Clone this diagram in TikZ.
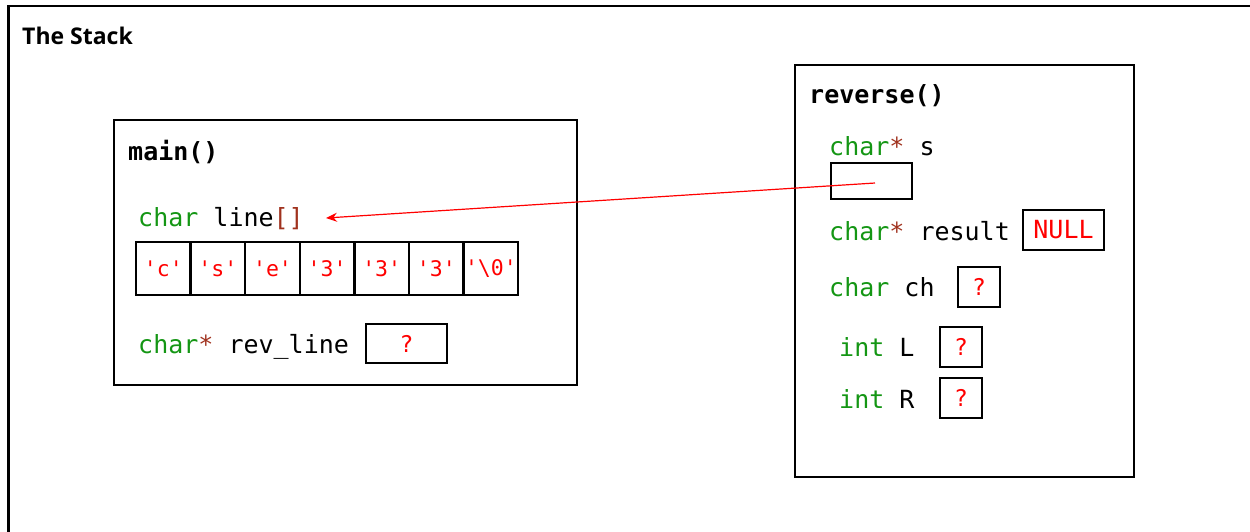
\documentclass[tikz,border=0pt]{standalone}
\usepackage{fontspec}
\setmainfont{Open Sans}
\setmonofont{DejaVu Sans Mono}
\usetikzlibrary{arrows.meta}
\definecolor{kwgreen}{RGB}{20,150,20}
\definecolor{ptrbrown}{RGB}{160,50,30}
\definecolor{valred}{RGB}{255,0,0}
\tikzset{
  frame/.style={draw=black, line width=2.6pt},
  label/.style={anchor=base west, inner sep=0pt, font=\ttfamily\fontsize{25}{30}\selectfont},
  title/.style={anchor=base west, inner sep=0pt, font=\ttfamily\bfseries\fontsize{25}{30}\selectfont},
  valbox/.style={draw=black, line width=2.4pt, inner sep=0pt, text=valred, font=\ttfamily\fontsize{23}{28}\selectfont},
  cell/.style={valbox, minimum width=54.6pt, minimum height=53pt, font=\ttfamily\fontsize{21.5}{26}\selectfont},
  ptr/.style={draw=valred, line width=1.2pt, -{Stealth[length=11pt,width=9pt]}}
}
\begin{document}
\begin{tikzpicture}[x=1pt,y=-1pt]
\useasboundingbox (0,0) rectangle (1250,531);
\begin{scope}
\clip (0,0) rectangle (1250,531);
\draw[frame] (8.5,6) rectangle (1270,560);
\end{scope}
\node[anchor=base west, inner sep=0pt, font=\bfseries\fontsize{23}{27}\selectfont] (stacktitle) at (22,44) {The Stack};

% main frame
\draw[frame] (114,120) rectangle (577,385);
\node[title] (maintitle) at (128,160) {main()};
\node[label] (linelbl) at (138,226) {\textcolor{kwgreen}{char} line\textcolor{ptrbrown}{[]}};
\foreach \i/\ch in {1/c,2/s,3/e,4/3,5/3,6/3,7/\textbackslash0}{
  \node[cell] (cell\i) at ({136+27.3+(\i-1)*54.6},268.5) {\symbol{39}\ch\symbol{39}};
}
\node[label] (revlbl) at (138,353) {\textcolor{kwgreen}{char}\textcolor{ptrbrown}{*} rev\_line};
\node[valbox, minimum width=81pt, minimum height=39pt] (revbox) at (406.5,343.5) {?};

% reverse frame
\draw[frame] (795,65) rectangle (1134,477);
\node[title] (revtitle) at (809,103) {reverse()};
\node[label] (slbl) at (829,155) {\textcolor{kwgreen}{char}\textcolor{ptrbrown}{*} s};
\node[valbox, minimum width=81pt, minimum height=36pt] (sbox) at (871.5,181) {};
\node[label] (reslbl) at (829,240) {\textcolor{kwgreen}{char}\textcolor{ptrbrown}{*} result};
\node[valbox, minimum width=81pt, minimum height=40pt, font=\ttfamily\fontsize{25}{30}\selectfont] (resbox) at (1063.5,230) {NULL};
\node[label] (chlbl) at (829,296) {\textcolor{kwgreen}{char} ch};
\node[valbox, minimum width=42pt, minimum height=40pt] (chbox) at (979,287) {?};
\node[label] (Llbl) at (839,356) {\textcolor{kwgreen}{int} L};
\node[valbox, minimum width=42pt, minimum height=40pt] (Lbox) at (961,347) {?};
\node[label] (Rlbl) at (839,408) {\textcolor{kwgreen}{int} R};
\node[valbox, minimum width=42pt, minimum height=40pt] (Rbox) at (961,398) {?};

% pointer
\coordinate (sstart) at (875,183);
\coordinate (lineend) at (326,218);
\draw[ptr] (sstart) -- (lineend);
\end{tikzpicture}
\end{document}
